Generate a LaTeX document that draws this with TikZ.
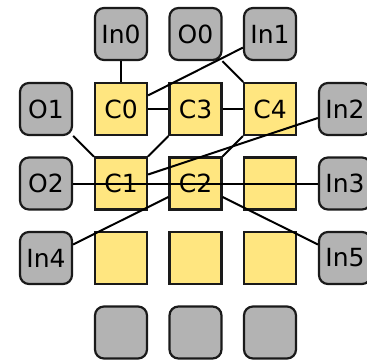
\documentclass[tikz,border=0pt]{standalone}
\usepackage{fontspec}
\setmainfont{DejaVu Sans}
\definecolor{cellyellow}{HTML}{FFE680}
\definecolor{portgray}{HTML}{B3B3B3}
\definecolor{edgeink}{HTML}{1A1A1A}
\begin{document}
\begin{tikzpicture}[x=1pt,y=-1pt,
  cell/.style={draw=edgeink,line width=2.2pt,fill=cellyellow,minimum size=52pt,
    inner sep=0pt,font=\fontsize{25}{29}\selectfont},
  port/.style={cell,fill=portgray,rounded corners=9pt},
  wire/.style={draw=black,line width=2pt}]
\useasboundingbox (0,0) rectangle (367,360);
% grid positions
\def\cA{46}\def\cB{121}\def\cC{195.5}\def\cD{270}\def\cE{345}
\def\rA{34}\def\rB{109}\def\rC{183.5}\def\rD{258}\def\rE{332.5}
% top row ports
\node[port] (in0) at (\cB,\rA) {In0};
\node[port] (o0)  at (\cC,\rA) {O0};
\node[port] (in1) at (\cD,\rA) {In1};
% row 1
\node[port] (o1)  at (\cA,\rB) {O1};
\node[cell] (c0)  at (\cB,\rB) {C0};
\node[cell] (c3)  at (\cC,\rB) {C3};
\node[cell] (c4)  at (\cD,\rB) {C4};
\node[port] (in2) at (\cE,\rB) {In2};
% row 2
\node[port] (o2)  at (\cA,\rC) {O2};
\node[cell] (c1)  at (\cB,\rC) {C1};
\node[cell] (c2)  at (\cC,\rC) {C2};
\node[cell] (e23) at (\cD,\rC) {};
\node[port] (in3) at (\cE,\rC) {In3};
% row 3
\node[port] (in4) at (\cA,\rD) {In4};
\node[cell] (e31) at (\cB,\rD) {};
\node[cell] (e32) at (\cC,\rD) {};
\node[cell] (e33) at (\cD,\rD) {};
\node[port] (in5) at (\cE,\rD) {In5};
% bottom row ports
\node[port] (p41) at (\cB,\rE) {};
\node[port] (p42) at (\cC,\rE) {};
\node[port] (p43) at (\cD,\rE) {};
% connections
\draw[wire] (in0) -- (c0);
\draw[wire] (in1) -- (c0);
\draw[wire] (o0) -- (c4);
\draw[wire] (c0) -- (c3);
\draw[wire] (c3) -- (c4);
\draw[wire] (o1) -- (c1);
\draw[wire] (c3) -- (c1);
\draw[wire] (c4) -- (c2);
\draw[wire] (in2) -- (c1);
\draw[wire] (o2) -- (in3);
\draw[wire] (in4) -- (c2);
\draw[wire] (c2) -- (in5);
\end{tikzpicture}
\end{document}
